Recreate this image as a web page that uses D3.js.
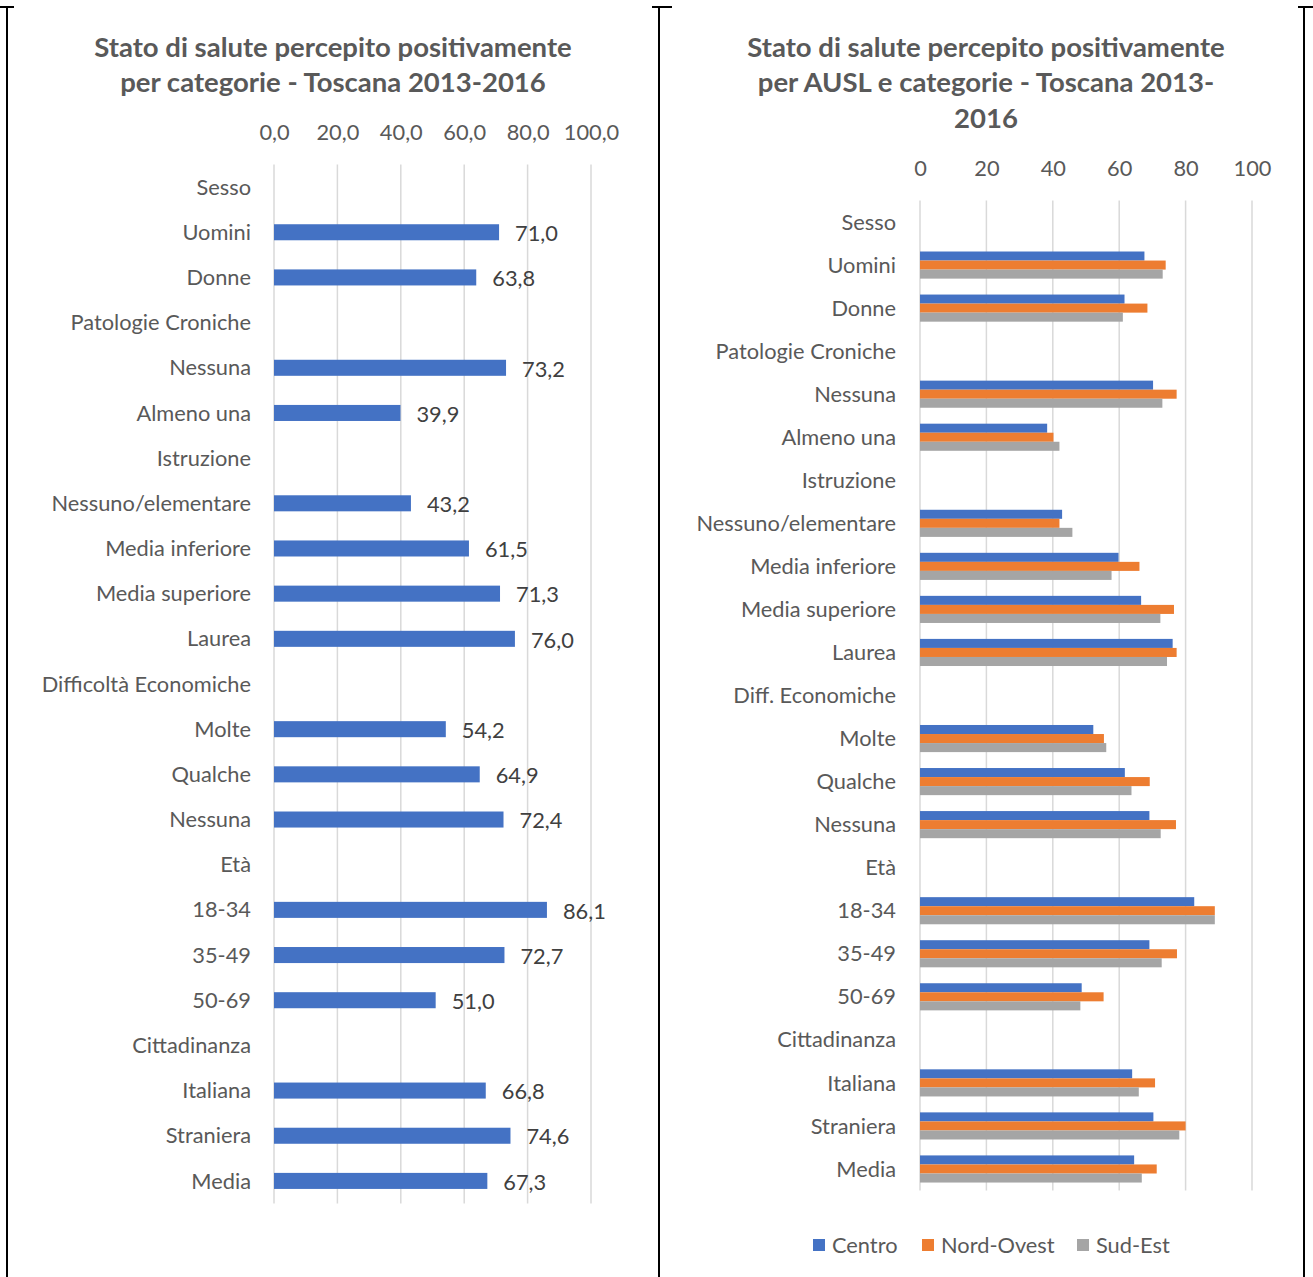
<!DOCTYPE html>
<html lang="it">
<head>
<meta charset="utf-8">
<script src="https://cdn.jsdelivr.net/npm/d3@7"></script>
<style>
  html, body { margin: 0; padding: 0; background: #ffffff; }
  svg { display: block; font-family: Lato, "Open Sans", sans-serif; }
</style>
</head>
<body>
<svg id="chart" width="1313" height="1277"></svg>
<script>
// Categorie (righe) – le righe di sezione non hanno valore
const categoriesLeft = ["Sesso", "Uomini", "Donne", "Patologie Croniche", "Nessuna", "Almeno una",
  "Istruzione", "Nessuno/elementare", "Media inferiore", "Media superiore", "Laurea",
  "Difficoltà Economiche", "Molte", "Qualche", "Nessuna ", "Età", "18-34", "35-49", "50-69",
  "Cittadinanza", "Italiana", "Straniera", "Media"];
const categoriesRight = ["Sesso", "Uomini", "Donne", "Patologie Croniche", "Nessuna", "Almeno una",
  "Istruzione", "Nessuno/elementare", "Media inferiore", "Media superiore", "Laurea",
  "Diff. Economiche", "Molte", "Qualche", "Nessuna ", "Età", "18-34", "35-49", "50-69",
  "Cittadinanza", "Italiana", "Straniera", "Media"];

// Toscana 2013-2016 (%)
const toscana = [null, 71.0, 63.8, null, 73.2, 39.9, null, 43.2, 61.5, 71.3, 76.0,
  null, 54.2, 64.9, 72.4, null, 86.1, 72.7, 51.0, null, 66.8, 74.6, 67.3];

// Per AUSL (%)
const series = ["Centro", "Nord-Ovest", "Sud-Est"];
const centro    = [null, 67.6, 61.6, null, 70.2, 38.3, null, 42.8, 59.8, 66.6, 76.1,
  null, 52.2, 61.7, 69.1, null, 82.6, 69.1, 48.7, null, 63.9, 70.3, 64.5];
const nordOvest = [null, 74.0, 68.5, null, 77.3, 40.2, null, 42.0, 66.1, 76.5, 77.3,
  null, 55.4, 69.2, 77.1, null, 88.8, 77.4, 55.3, null, 70.8, 80.0, 71.3];
const sudEst    = [null, 73.1, 61.1, null, 73.0, 42.0, null, 45.9, 57.7, 72.4, 74.4,
  null, 56.1, 63.7, 72.5, null, 88.8, 72.8, 48.3, null, 65.9, 78.1, 66.8];

const ticksLeft = [0, 20, 40, 60, 80, 100];
const ticksRight = [0, 20, 40, 60, 80, 100];

const colors = ["#4472C4", "#ED7D31", "#A5A5A5"];
const textColor = "#595959";
const labelColor = "#404040";
const fs = 21.8;

const it = d3.formatLocale({decimal: ",", thousands: ".", grouping: [3], currency: ["€", ""]});
const fmt1 = it.format(".1f");

const svg = d3.select("#chart");

// Cornice della tabella
const frame = svg.append("g").attr("stroke", "#000").attr("stroke-width", 2);
[[7, 7, 7, 1277], [659, 7, 659, 1277], [1304, 7, 1304, 1277],
 [0, 7, 14, 7], [652, 7, 672, 7], [1298, 7, 1313, 7]].forEach(([x1, y1, x2, y2]) =>
  frame.append("line").attr("x1", x1).attr("y1", y1).attr("x2", x2).attr("y2", y2));

function title(lines, cx) {
  const t = svg.append("text").attr("text-anchor", "middle")
    .attr("font-weight", "bold").attr("font-size", 27.5).attr("fill", textColor);
  lines.forEach((l, i) => t.append("tspan").attr("x", cx).attr("y", 56.5 + i * 35.5).text(l));
}

function styleAxis(g) {
  g.select(".domain").remove();
  g.selectAll(".tick line").remove();
  g.selectAll(".tick text").attr("fill", textColor).attr("font-size", fs)
    .attr("font-family", "Lato, 'Open Sans', sans-serif");
}

// ---------- Grafico sinistro ----------
title(["Stato di salute percepito positivamente", "per categorie - Toscana 2013-2016"], 333);

const xL = d3.scaleLinear().domain([0, 100]).range([274, 591]);
const yL = d3.scaleBand().domain(categoriesLeft).range([164.5, 1203.5])
  .paddingInner(0.645).paddingOuter(0.3225);

svg.append("g").selectAll("line").data(ticksLeft).join("line")
  .attr("x1", d => xL(d)).attr("x2", d => xL(d))
  .attr("y1", 164.5).attr("y2", 1203.5)
  .attr("stroke", "#d9d9d9").attr("stroke-width", 1.5);

svg.append("g").attr("transform", "translate(0,143)")
  .call(d3.axisTop(xL).tickValues(ticksLeft).tickFormat(fmt1).tickSize(0))
  .call(styleAxis);

svg.append("g").selectAll("text").data(categoriesLeft).join("text")
  .attr("x", 251).attr("y", d => yL(d) + yL.bandwidth() / 2)
  .attr("dy", "0.35em").attr("text-anchor", "end")
  .attr("font-size", fs).attr("fill", textColor).text(d => d.trim());

const leftData = categoriesLeft.map((c, i) => ({c, v: toscana[i]})).filter(d => d.v !== null);
svg.append("g").selectAll("rect").data(leftData).join("rect")
  .attr("x", xL(0)).attr("y", d => yL(d.c))
  .attr("width", d => xL(d.v) - xL(0)).attr("height", yL.bandwidth())
  .attr("fill", colors[0]);

svg.append("g").selectAll("text").data(leftData).join("text")
  .attr("x", d => xL(d.v) + 16).attr("y", d => yL(d.c) + yL.bandwidth() / 2)
  .attr("dy", "0.4em").attr("font-size", fs).attr("fill", labelColor)
  .text(d => fmt1(d.v));

// ---------- Grafico destro ----------
title(["Stato di salute percepito positivamente", "per AUSL e categorie - Toscana 2013-", "2016"], 986);

const xR = d3.scaleLinear().domain([0, 100]).range([920, 1252]);
const yR = d3.scaleBand().domain(categoriesRight).range([200.5, 1190.5])
  .paddingInner(0.37).paddingOuter(0.185);
const ySub = d3.scaleBand().domain(series).range([0, yR.bandwidth()]);

svg.append("g").selectAll("line").data(ticksRight).join("line")
  .attr("x1", d => xR(d)).attr("x2", d => xR(d))
  .attr("y1", 200.5).attr("y2", 1190.5)
  .attr("stroke", "#d9d9d9").attr("stroke-width", 1.5);

svg.append("g").attr("transform", "translate(0,179)")
  .call(d3.axisTop(xR).tickValues(ticksRight).tickFormat(d3.format("d")).tickSize(0))
  .call(styleAxis);

svg.append("g").selectAll("text").data(categoriesRight).join("text")
  .attr("x", 896).attr("y", d => yR(d) + yR.bandwidth() / 2)
  .attr("dy", "0.35em").attr("text-anchor", "end")
  .attr("font-size", fs).attr("fill", textColor).text(d => d.trim());

const seriesValues = [centro, nordOvest, sudEst];
const rightData = [];
categoriesRight.forEach((c, i) => {
  series.forEach((s, j) => {
    const v = seriesValues[j][i];
    if (v !== null) rightData.push({c, s, j, v});
  });
});
svg.append("g").selectAll("rect").data(rightData).join("rect")
  .attr("x", xR(0)).attr("y", d => yR(d.c) + ySub(d.s))
  .attr("width", d => xR(d.v) - xR(0)).attr("height", ySub.bandwidth())
  .attr("fill", d => colors[d.j]);

// Legenda
const legendX = [813, 922, 1077];
const legend = svg.append("g").selectAll("g").data(series).join("g")
  .attr("transform", (d, i) => `translate(${legendX[i]},1245)`);
legend.append("rect").attr("x", 0).attr("y", -6).attr("width", 12).attr("height", 12)
  .attr("fill", (d, i) => colors[i]);
legend.append("text").attr("x", 19).attr("dy", "0.35em")
  .attr("font-size", fs).attr("fill", textColor).text(d => d);
</script>
</body>
</html>
